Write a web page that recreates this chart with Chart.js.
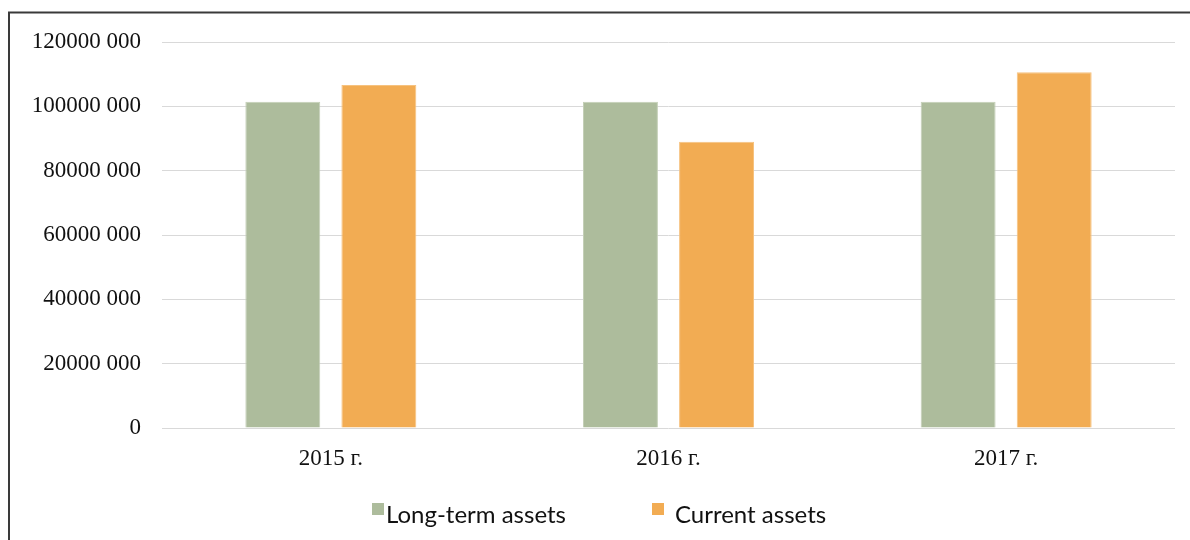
<!DOCTYPE html>
<html>
<head>
<meta charset="utf-8">
<script src="https://cdn.jsdelivr.net/npm/chart.js@4/dist/chart.umd.min.js"></script>
<style>
html,body{margin:0;padding:0;background:#fff;}
#wrap{width:1190px;height:540px;position:relative;}
</style>
</head>
<body>
<div id="wrap"><canvas id="c" width="1190" height="540"></canvas></div>
<script>
const categories = ['2015 г.', '2016 г.', '2017 г.'];
const longTermAssets = [101400000, 101400000, 101400000];
const currentAssets = [106600000, 89000000, 110600000];
const seriesNames = ['Long-term assets', 'Current assets'];
const yTicks = [0, 20000000, 40000000, 60000000, 80000000, 100000000, 120000000];

const frame = {
  id: 'frame',
  beforeDraw(chart) {
    const ctx = chart.ctx;
    ctx.save();
    ctx.strokeStyle = '#3a3a3a';
    ctx.lineWidth = 2;
    ctx.beginPath();
    ctx.moveTo(9, 540);
    ctx.lineTo(9, 12.5);
    ctx.lineTo(1190, 12.5);
    ctx.stroke();
    ctx.restore();
  }
};

const legendPlugin = {
  id: 'customLegend',
  afterDraw(chart) {
    const ctx = chart.ctx;
    const boxX = [372, 652];
    const textX = [386, 675];
    ctx.save();
    ctx.textBaseline = 'alphabetic';
    chart.data.datasets.forEach((ds, i) => {
      ctx.fillStyle = ds.backgroundColor;
      ctx.fillRect(boxX[i], 503, 12, 12);
      ctx.fillStyle = '#111';
      ctx.font = '24px Lato, "Open Sans", sans-serif';
      ctx.fillText(ds.label, textX[i], 523);
    });
    ctx.restore();
  }
};

new Chart(document.getElementById('c'), {
  type: 'bar',
  data: {
    labels: categories,
    datasets: [
      { label: seriesNames[0], data: longTermAssets, backgroundColor: '#adbc9c', borderColor: '#c4cfb7', borderWidth: 1, categoryPercentage: 0.569, barPercentage: 0.78 },
      { label: seriesNames[1], data: currentAssets, backgroundColor: '#f2ac53', borderColor: '#f6c27f', borderWidth: 1, categoryPercentage: 0.569, barPercentage: 0.78 }
    ]
  },
  options: {
    responsive: false,
    animation: false,
    devicePixelRatio: 1,
    layout: { padding: { top: 42, right: 15, left: 0, bottom: 0 } },
    plugins: { legend: { display: false }, tooltip: { enabled: false } },
    scales: {
      x: {
        grid: { display: false, drawTicks: false },
        border: { display: false },
        ticks: { color: '#111', font: { family: '"Liberation Serif", "Times New Roman", serif', size: 23 }, padding: 17 },
        afterFit(scale) { scale.height = 112; }
      },
      y: {
        min: 0, max: 120000000,
        afterBuildTicks(scale) { scale.ticks = yTicks.map(v => ({ value: v })); },
        grid: { color: '#d9d9d9', lineWidth: 1, drawTicks: false },
        border: { display: false },
        ticks: {
          color: '#111',
          font: { family: '"Liberation Serif", "Times New Roman", serif', size: 23 },
          padding: 21,
          callback(v) { return v === 0 ? '0' : Math.round(v / 1000) + ' 000'; }
        },
        afterFit(scale) { scale.width = 162; }
      }
    }
  },
  plugins: [frame, legendPlugin]
});
</script>
</body>
</html>
